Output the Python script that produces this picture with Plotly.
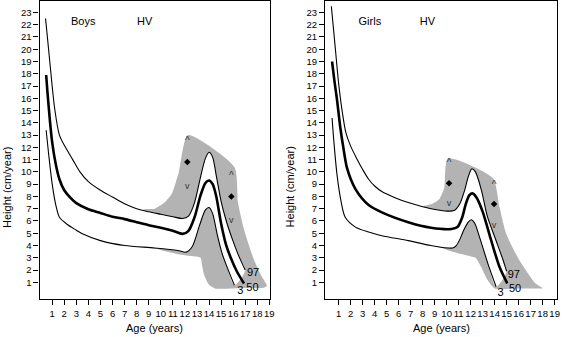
import plotly.graph_objects as go

# ---------------- data ----------------
ages_ticks = list(range(1, 20))
hv_ticks = list(range(1, 24))

# Boys percentile curves (age, cm/year)
boys_p97_x = [0.45, 0.8, 1.2, 1.6, 2.1, 2.7, 3.3, 4.0, 5.0, 6.0, 7.0, 8.0, 9.0, 10.0, 11.0, 11.8, 12.3, 12.8, 13.3, 13.7, 14.0, 14.3, 14.6, 15.0, 15.4, 15.9, 16.4, 17.0]
boys_p97_y = [22.5, 19.0, 15.2, 13.0, 12.0, 11.0, 10.0, 9.2, 8.5, 7.95, 7.4, 7.0, 6.75, 6.55, 6.35, 6.2, 6.4, 7.5, 9.6, 11.1, 11.6, 11.2, 9.7, 7.6, 6.1, 4.6, 3.3, 2.0]
boys_p50_x = [0.5, 0.6, 0.8, 1.0, 1.3, 1.6, 2.0, 2.5, 3.0, 4.0, 5.0, 6.0, 7.0, 8.0, 9.0, 10.0, 11.0, 11.8, 12.3, 12.8, 13.3, 13.7, 14.0, 14.3, 14.6, 15.0, 15.4, 15.8, 16.3, 16.9]
boys_p50_y = [17.9, 16.6, 14.3, 12.4, 10.6, 9.4, 8.5, 7.9, 7.45, 6.95, 6.65, 6.35, 6.15, 5.9, 5.65, 5.45, 5.2, 4.95, 5.2, 6.3, 8.1, 9.1, 9.3, 9.0, 8.0, 5.8, 4.1, 3.0, 1.9, 0.9]
boys_p3_x = [0.5, 0.7, 1.0, 1.3, 1.6, 2.2, 3.0, 3.5, 5.0, 7.0, 9.5, 11.4, 12.1, 12.6, 13.2, 13.7, 14.0, 14.3, 14.7, 15.1, 15.5, 16.1]
boys_p3_y = [13.4, 11.5, 9.0, 7.3, 6.3, 5.75, 5.25, 4.95, 4.4, 4.0, 3.8, 3.6, 3.46, 3.9, 5.6, 6.9, 7.1, 6.6, 4.8, 3.3, 2.24, 0.76]

# Boys grey band (polygon)
boys_band_x = [8.5, 9.5, 10.3, 10.9, 11.5, 12.25, 16.1, 16.4, 16.9, 17.7, 18.3, 18.8, 18.5, 17.5, 16.0, 14.5, 14.0, 13.6, 13.4, 13.3, 12.0, 10.5, 9.5, 9.0]
boys_band_y = [6.9, 7.0, 7.5, 8.2, 10.0, 13.0, 10.4, 7.5, 5.3, 2.9, 1.6, 0.7, 0.55, 0.55, 0.5, 0.5, 0.8, 1.6, 2.5, 3.0, 3.2, 3.5, 3.75, 3.85]

# Girls percentile curves
girls_p97_x = [0.39, 0.7, 1.0, 1.3, 1.6, 2.0, 2.5, 3.0, 3.5, 4.0, 4.6, 5.7, 6.8, 8.7, 10.1, 10.7, 11.1, 11.5, 11.8, 12.1, 12.4, 12.9, 13.4, 14.1, 14.7, 15.0]
girls_p97_y = [23.5, 20.3, 17.2, 14.9, 13.2, 12.1, 11.1, 10.2, 9.4, 8.85, 8.4, 7.9, 7.5, 7.0, 6.8, 6.9, 7.4, 8.5, 9.6, 10.25, 10.0, 8.5, 6.35, 4.45, 2.82, 1.9]
girls_p50_x = [0.45, 0.65, 0.86, 1.14, 1.42, 1.7, 2.4, 3.5, 4.6, 6.8, 8.7, 10.4, 10.9, 11.3, 11.6, 11.9, 12.15, 12.5, 13.0, 13.7, 14.4, 15.05]
girls_p50_y = [19.0, 17.4, 15.9, 13.6, 11.8, 10.3, 8.6, 7.3, 6.7, 5.9, 5.45, 5.35, 5.5, 6.3, 7.4, 8.1, 8.25, 7.9, 6.76, 4.45, 2.27, 0.92]
girls_p3_x = [0.45, 0.6, 0.86, 1.2, 1.55, 2.4, 3.5, 4.6, 6.8, 8.7, 10.5, 10.8, 11.1, 11.4, 11.8, 12.05, 12.35, 12.73, 13.43, 14.12]
girls_p3_y = [14.4, 12.5, 9.8, 7.6, 6.3, 5.5, 5.1, 4.8, 4.4, 4.0, 3.8, 4.0, 4.5, 5.2, 5.9, 6.1, 5.8, 4.72, 2.55, 0.64]

girls_band_x = [7.8, 8.8, 9.4, 9.8, 10.1, 13.85, 14.4, 14.95, 16.05, 17.4, 18.0, 17.7, 16.0, 14.0, 13.4, 12.9, 12.5, 12.4, 11.2, 10.3, 9.6, 9.0]
girls_band_y = [7.05, 7.4, 7.8, 8.7, 11.1, 9.5, 7.16, 5.0, 2.82, 0.92, 0.51, 0.49, 0.5, 0.5, 1.2, 2.2, 2.9, 3.0, 3.3, 3.55, 3.8, 3.95]

# Markers: mean (diamond), +2SD (^), -2SD (v)
boys_mark_x = [12.2, 15.85]
boys_mark_mean = [10.8, 8.0]
boys_mark_hi = [12.9, 10.0]
boys_mark_lo = [8.8, 6.0]
girls_mark_x = [10.2, 13.95]
girls_mark_mean = [9.07, 7.38]
girls_mark_hi = [11.1, 9.3]
girls_mark_lo = [7.4, 5.6]

# Percentile label positions
pct_labels = ["97", "50", "3"]
boys_lab_x = [17.65, 17.6, 16.6]
boys_lab_y = [1.7, 0.5, 0.25]
girls_lab_x = [15.6, 15.7, 14.5]
girls_lab_y = [1.55, 0.42, 0.1]

panel_titles = [("Boys", 3.57), ("Girls", 3.6)]
hv_title_x = [8.67, 8.4]
title_y = 22.2

# ---------------- figure ----------------
FONT = "Liberation Sans Narrow, Arial Narrow, Liberation Sans, Arial, sans-serif"
GREY = "#b3b3b3"
fig = go.Figure()

def add_panel(xa, ya, p97x, p97y, p50x, p50y, p3x, p3y, bx, by,
              mx, mmean, mhi, mlo, lx, ly, title, hvx):
    fig.add_trace(go.Scatter(x=bx + [bx[0]], y=by + [by[0]], mode="lines", fill="toself",
                             fillcolor=GREY, line=dict(width=0, shape="spline", smoothing=0.6),
                             xaxis=xa, yaxis=ya, hoverinfo="skip", showlegend=False))
    fig.add_trace(go.Scatter(x=p97x + p3x[::-1], y=p97y + p3y[::-1], mode="lines", fill="toself",
                             fillcolor="white", line=dict(width=0, shape="spline", smoothing=0.8),
                             xaxis=xa, yaxis=ya, hoverinfo="skip", showlegend=False))
    for xs, ys, w in [(p97x, p97y, 1.1), (p50x, p50y, 2.6), (p3x, p3y, 1.1)]:
        fig.add_trace(go.Scatter(x=xs, y=ys, mode="lines",
                                 line=dict(color="black", width=w, shape="spline", smoothing=0.8),
                                 xaxis=xa, yaxis=ya, showlegend=False))
    fig.add_trace(go.Scatter(x=mx, y=mmean, mode="markers",
                             marker=dict(symbol="diamond", size=5, color="black"),
                             xaxis=xa, yaxis=ya, showlegend=False))
    fig.add_trace(go.Scatter(x=mx, y=mhi, mode="text", text=["^"] * len(mx),
                             textposition="bottom center",
                             textfont=dict(family=FONT, size=10, color="#333333"),
                             xaxis=xa, yaxis=ya, showlegend=False))
    fig.add_trace(go.Scatter(x=mx, y=mlo, mode="text", text=["v"] * len(mx),
                             textfont=dict(family=FONT, size=9, color="#333333"),
                             xaxis=xa, yaxis=ya, showlegend=False))
    fig.add_trace(go.Scatter(x=lx, y=ly, mode="text", text=pct_labels,
                             textfont=dict(family=FONT, size=11, color="black"),
                             xaxis=xa, yaxis=ya, showlegend=False))
    fig.add_trace(go.Scatter(x=[title[1], hvx], y=[title_y, title_y], mode="text",
                             text=[title[0], "HV"],
                             textfont=dict(family=FONT, size=11, color="black"),
                             xaxis=xa, yaxis=ya, showlegend=False))

add_panel("x", "y", boys_p97_x, boys_p97_y, boys_p50_x, boys_p50_y, boys_p3_x, boys_p3_y,
          boys_band_x, boys_band_y, boys_mark_x, boys_mark_mean, boys_mark_hi, boys_mark_lo,
          boys_lab_x, boys_lab_y, panel_titles[0], hv_title_x[0])
add_panel("x2", "y2", girls_p97_x, girls_p97_y, girls_p50_x, girls_p50_y, girls_p3_x, girls_p3_y,
          girls_band_x, girls_band_y, girls_mark_x, girls_mark_mean, girls_mark_hi, girls_mark_lo,
          girls_lab_x, girls_lab_y, panel_titles[1], hv_title_x[1])

W, H = 565, 337
axis_common = dict(showline=True, linecolor="black", linewidth=1.3, mirror=True,
                   ticks="outside", ticklen=5, tickcolor="black", tickwidth=1,
                   showgrid=False, zeroline=False, tickangle=0,
                   tickfont=dict(family=FONT, size=9.5, color="black"))
fig.update_layout(
    width=W, height=H, margin=dict(l=0, r=0, t=0, b=0),
    paper_bgcolor="white", plot_bgcolor="white",
    xaxis=dict(domain=[40 / W, 272 / W], range=[-0.04, 19.02], tickvals=ages_ticks, **axis_common),
    yaxis=dict(domain=[38 / H, 336 / H], range=[-0.36, 23.93], tickvals=hv_ticks, **axis_common),
    xaxis2=dict(domain=[328 / W, 562 / W], range=[-0.13, 19.2], tickvals=ages_ticks, anchor="y2", **axis_common),
    yaxis2=dict(domain=[38 / H, 336 / H], range=[-0.36, 23.93], tickvals=hv_ticks, anchor="x2", **axis_common),
    annotations=[
        dict(text="Height (cm/year)", x=7 / W, y=150 / H, xref="paper", yref="paper",
             xanchor="center", yanchor="middle",
             textangle=-90, showarrow=False, font=dict(family=FONT, size=11, color="black")),
        dict(text="Height (cm/year)", x=293 / W, y=150 / H, xref="paper", yref="paper",
             xanchor="center", yanchor="middle",
             textangle=-90, showarrow=False, font=dict(family=FONT, size=11, color="black")),
        dict(text="Age (years)", x=156 / W, y=(H - 328) / H, xref="paper", yref="paper",
             xanchor="center", yanchor="middle",
             showarrow=False, font=dict(family=FONT, size=11, color="black")),
        dict(text="Age (years)", x=445 / W, y=(H - 328) / H, xref="paper", yref="paper",
             xanchor="center", yanchor="middle",
             showarrow=False, font=dict(family=FONT, size=11, color="black")),
    ],
)
fig.write_html("out.html")
